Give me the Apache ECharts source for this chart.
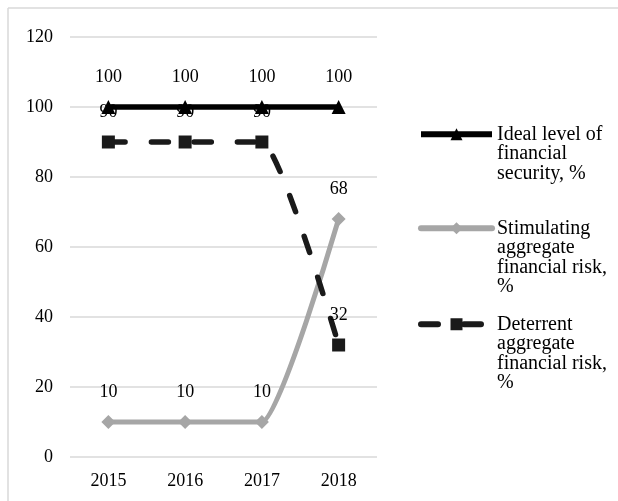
<!DOCTYPE html>
<html><head><meta charset="utf-8">
<script src="https://cdn.jsdelivr.net/npm/echarts@6/dist/echarts.min.js"></script>
<style>html,body{margin:0;padding:0;background:#fff}#c{width:618px;height:501px}</style>
</head><body><div id="c"></div>
<script>
const years = ['2015', '2016', '2017', '2018'];
const idealLevel = [100, 100, 100, 100];
const stimulatingRisk = [10, 10, 10, 68];
const deterrentRisk = [90, 90, 90, 32];
const yMin = 0, yMax = 120, yStep = 20;
const seriesNames = [
  'Ideal level of financial security, %',
  'Stimulating aggregate financial risk, %',
  'Deterrent aggregate financial risk, %'
];
const legendLines = [
  ['Ideal level of', 'financial', 'security, %'],
  ['Stimulating', 'aggregate', 'financial risk,', '%'],
  ['Deterrent', 'aggregate', 'financial risk,', '%']
];

const FONT = 'Liberation Serif';
const LH = 19.5;
const iconCenters = [134, 228, 324];

const chart = echarts.init(document.getElementById('c'), null, {renderer: 'canvas'});

const legends = seriesNames.map((nm, i) => {
  const n = legendLines[i].length;
  const pad = new Array(n - 1).fill(' ').join('\n');
  return {
    data: [nm],
    orient: 'vertical',
    left: 418,
    top: iconCenters[i] - (n - 0.5) * LH,
    padding: 0,
    itemWidth: 71,
    itemHeight: 15,
    selectedMode: false,
    lineStyle: {width: 6},
    formatter: () => pad + '\n' + legendLines[i].join('\n'),
    textStyle: {
      fontFamily: FONT, fontSize: 20, color: '#000', lineHeight: LH
    }
  };
});

const labelCommon = {
  show: true, position: 'top', distance: 14,
  fontFamily: FONT, fontSize: 18, color: '#000'
};

chart.setOption({
  animation: false,
  backgroundColor: '#fff',
  graphic: [
    {type: 'line', shape: {x1: 8, y1: 8, x2: 618, y2: 8}, style: {stroke: '#d9d9d9', lineWidth: 1.5}, silent: true},
    {type: 'line', shape: {x1: 8, y1: 8, x2: 8, y2: 501}, style: {stroke: '#d9d9d9', lineWidth: 1.5}, silent: true}
  ],
  legend: legends,
  grid: {left: 70, right: 241, top: 37, bottom: 44, containLabel: false},
  xAxis: {
    type: 'category', data: years, boundaryGap: true,
    axisLine: {show: false}, axisTick: {show: false},
    axisLabel: {fontFamily: FONT, fontSize: 18, color: '#000', margin: 15}
  },
  yAxis: {
    type: 'value', min: yMin, max: yMax, interval: yStep,
    axisLine: {show: false}, axisTick: {show: false},
    splitLine: {lineStyle: {color: '#d9d9d9', width: 1.5}},
    axisLabel: {fontFamily: FONT, fontSize: 18, color: '#000', margin: 17}
  },
  series: [
    {
      name: seriesNames[1], type: 'line', data: stimulatingRisk, smooth: 0.15,
      symbol: 'diamond', symbolSize: 14,
      lineStyle: {color: '#a6a6a6', width: 5, cap: 'round'},
      itemStyle: {color: '#a6a6a6'},
      label: labelCommon, z: 2
    },
    {
      name: seriesNames[2], type: 'line', data: deterrentRisk, smooth: 0.15,
      symbol: 'rect', symbolSize: 13,
      lineStyle: {color: '#1a1a1a', width: 5.5, type: [17, 26], cap: 'round'},
      itemStyle: {color: '#1a1a1a'},
      label: labelCommon, z: 3
    },
    {
      name: seriesNames[0], type: 'line', data: idealLevel, smooth: false,
      symbol: 'triangle', symbolSize: 14,
      lineStyle: {color: '#000', width: 5.5},
      itemStyle: {color: '#000'},
      label: labelCommon, z: 4
    }
  ]
});
</script></body></html>
